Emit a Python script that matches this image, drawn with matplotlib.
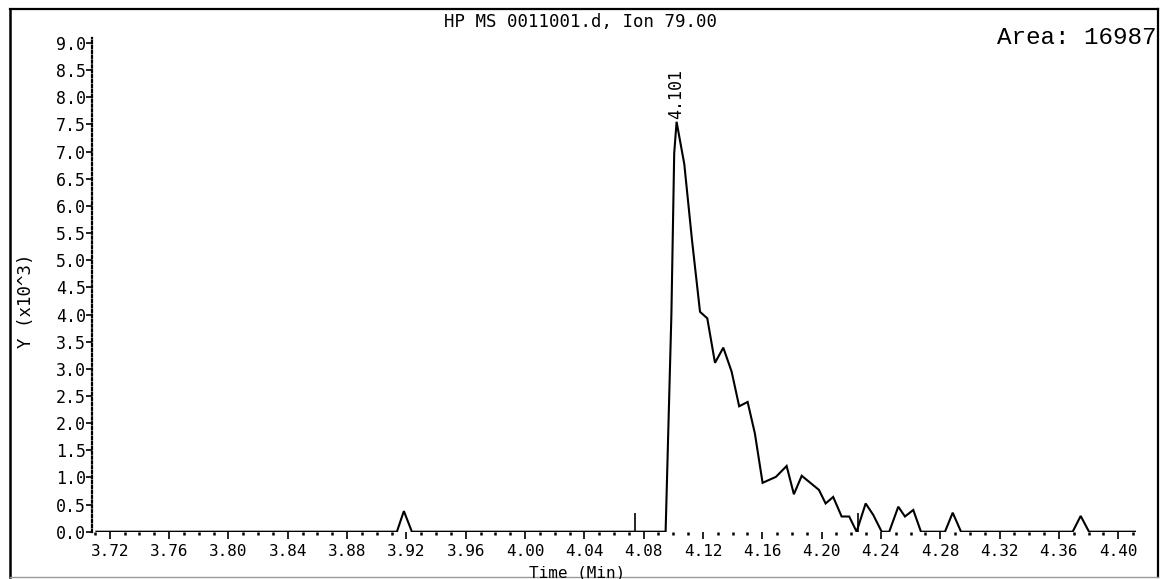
import matplotlib
matplotlib.use("Agg")
import matplotlib.pyplot as plt
from matplotlib.ticker import FixedLocator, MultipleLocator, NullFormatter
from matplotlib.lines import Line2D

# ---- data (Y in units of 10^3) ----
time_min = [3.7110, 3.9136, 3.9183, 3.9237, 4.0948, 4.0987, 4.1006, 4.1022,
            4.1074, 4.1126, 4.1180, 4.1229, 4.1281, 4.1337, 4.1393, 4.1444,
            4.1501, 4.1550, 4.1602, 4.1692, 4.1764, 4.1813, 4.1866, 4.1982,
            4.2027, 4.2078, 4.2135, 4.2186, 4.2236, 4.2297, 4.2348, 4.2405,
            4.2456, 4.2517, 4.2562, 4.2618, 4.2670, 4.2832, 4.2884, 4.2940,
            4.3693, 4.3747, 4.3803, 4.4114]
abundance_k = [0.00, 0.00, 0.38, 0.00, 0.00, 4.00, 6.97, 7.55,
               6.77, 5.37, 4.05, 3.93, 3.11, 3.39, 2.95, 2.31,
               2.39, 1.81, 0.90, 1.01, 1.21, 0.69, 1.03, 0.77,
               0.52, 0.64, 0.28, 0.28, 0.00, 0.52, 0.31, 0.00,
               0.00, 0.46, 0.28, 0.40, 0.00, 0.00, 0.35, 0.00,
               0.00, 0.29, 0.00, 0.00]

marker_times = [4.0741, 4.2245]
marker_heights = [0.35, 0.35]

x_ticks = [3.72, 3.76, 3.80, 3.84, 3.88, 3.92, 3.96, 4.00, 4.04,
           4.08, 4.12, 4.16, 4.20, 4.24, 4.28, 4.32, 4.36, 4.40]
x_tick_labels = ["3.72", "3.76", "3.80", "3.84", "3.88", "3.92", "3.96",
                 "4.00", "4.04", "4.08", "4.12", "4.16", "4.20", "4.24",
                 "4.28", "4.32", "4.36", "4.40"]
y_ticks = [0.0, 0.5, 1.0, 1.5, 2.0, 2.5, 3.0, 3.5, 4.0, 4.5,
           5.0, 5.5, 6.0, 6.5, 7.0, 7.5, 8.0, 8.5, 9.0]
y_tick_labels = ["0.0", "0.5", "1.0", "1.5", "2.0", "2.5", "3.0", "3.5",
                 "4.0", "4.5", "5.0", "5.5", "6.0", "6.5", "7.0", "7.5",
                 "8.0", "8.5", "9.0"]

title_text = "HP MS 0011001.d, Ion 79.00"
area_text = "Area: 16987"
x_label = "Time (Min)"
y_label = "Y (x10^3)"
peak_rt = 4.101
peak_height = max(abundance_k)
peak_time = time_min[abundance_k.index(peak_height)]

# ---- figure ----
W, H = 1160, 579
fig = plt.figure(figsize=(W / 100, H / 100), dpi=100)
fig.patch.set_facecolor("white")

ax = fig.add_axes([92 / W, (H - 531.7) / H, 1044 / W, 494.1 / H])
ax.set_xlim(3.708, 4.412)
ax.set_ylim(0, 9.1)

ax.plot(time_min, abundance_k, color="black", lw=1.5, solid_joinstyle="miter")
ax.vlines(marker_times, 0, marker_heights, color="black", lw=1.2)

for s in ("top", "right", "bottom"):
    ax.spines[s].set_visible(False)
ax.spines["left"].set_linestyle((0, (1.0, 1.2)))
ax.spines["left"].set_linewidth(1.6)
ax.spines["left"].set_color("black")

mono = "DejaVu Sans Mono"
ax.xaxis.set_major_locator(FixedLocator(x_ticks))
ax.set_xticklabels(x_tick_labels, family=mono, size=11.5)
ax.xaxis.set_minor_locator(MultipleLocator(0.01))
ax.xaxis.set_minor_formatter(NullFormatter())
ax.tick_params(axis="x", which="major", direction="out", length=5, width=1.2,
               pad=4, color="black")
ax.tick_params(axis="x", which="minor", direction="out", length=2.5, width=1.8,
               color="black")

ax.yaxis.set_major_locator(FixedLocator(y_ticks))
ax.set_yticklabels(y_tick_labels, family=mono, size=12)
ax.tick_params(axis="y", which="major", direction="out", length=4, width=1.2,
               pad=0.5, color="black")

ax.annotate(f"{peak_rt:.3f}", xy=(peak_time, peak_height), xytext=(0, 2),
            textcoords="offset points", rotation=90, ha="center", va="bottom",
            family=mono, size=12)

fig.text(580 / W, 1 - 22 / H, title_text, ha="center", va="center",
         family=mono, size=12.5)
fig.text(577 / W, 1 - 577.5 / H, x_label, ha="center", va="baseline",
         family=mono, size=11.5)
fig.text(26 / W, 1 - 301 / H, y_label, ha="center", va="center", rotation=90,
         family=mono, size=12.5)
fig.text(997 / W, 1 - 37 / H, area_text, ha="left", va="center",
         family="Liberation Mono", size=17.5)

# outer frame
def fline(x0, y0, x1, y1, **kw):
    fig.add_artist(Line2D([x0 / W, x1 / W], [1 - y0 / H, 1 - y1 / H],
                          transform=fig.transFigure, **kw))

fline(10, 9, 1158, 9, color="black", lw=1.6)
fline(10, 9, 10, 577, color="black", lw=1.8)
fline(1158, 9, 1158, 577, color="black", lw=1.6)
fline(10, 577, 1158, 577, color="0.6", lw=1.0)

fig.savefig("out.png", dpi=100, facecolor="white")
